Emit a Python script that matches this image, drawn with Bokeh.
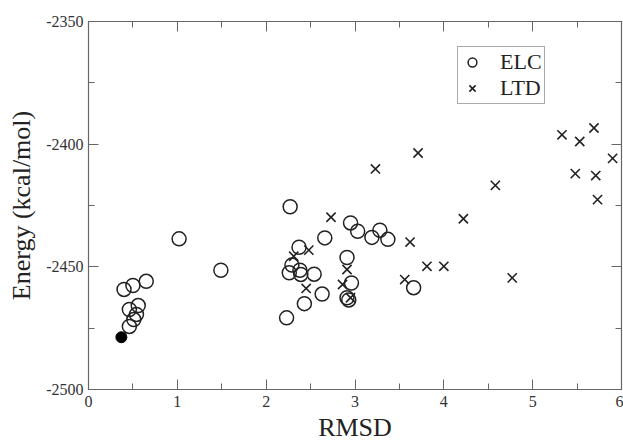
from bokeh.plotting import figure
from bokeh.models import (Range1d, LinearAxis, FixedTicker, Legend, LegendItem,
                          CustomJSTickFormatter)
from bokeh.embed import file_html
from bokeh.resources import INLINE

# ---- data ----
elc_x = [0.40, 0.50, 0.65, 0.46, 0.56, 0.54, 0.46, 0.51, 1.02, 1.49, 2.27, 2.95,
         3.03, 3.19, 3.28, 3.37, 2.66, 2.37, 2.91, 2.29, 2.26, 2.38, 2.39, 2.54,
         2.96, 2.63, 2.91, 2.43, 2.23, 3.66, 2.93]
elc_y = [-2459.2, -2457.6, -2455.9, -2467.4, -2465.8, -2469.4, -2474.3, -2471.5,
         -2438.6, -2451.4, -2425.5, -2432.1, -2435.5, -2438.0, -2435.1, -2438.8,
         -2438.2, -2442.0, -2446.2, -2449.3, -2452.4, -2451.4, -2453.1, -2453.0,
         -2456.6, -2461.1, -2462.6, -2465.0, -2470.8, -2458.5, -2463.5]

ltd_x = [3.23, 3.71, 2.73, 3.62, 4.22, 4.58, 5.33, 5.53, 5.69, 5.90, 5.48, 5.71,
         5.73, 3.81, 4.00, 3.56, 4.77, 2.48, 2.31, 2.91, 2.45, 2.86, 2.95]
ltd_y = [-2410.1, -2403.6, -2429.8, -2439.9, -2430.4, -2416.8, -2396.2, -2398.9,
         -2393.4, -2405.8, -2412.0, -2412.8, -2422.6, -2449.8, -2449.8, -2455.2,
         -2454.5, -2443.2, -2445.7, -2451.1, -2458.8, -2457.2, -2462.6]

best_x = [0.37]
best_y = [-2478.7]

x_ticks = [0, 1, 2, 3, 4, 5, 6]
y_ticks = [-2500, -2450, -2400, -2350]
y_tick_labels = ["-2500", "-2450", "-2400", "-2350"]

FONT = "Liberation Serif"
AX_COLOR = "#666666"
MK_COLOR = "#222222"

p = figure(width=623, height=444, output_backend="svg", toolbar_location=None,
           x_range=Range1d(0, 6), y_range=Range1d(-2500, -2350),
           min_border_left=88, min_border_right=2, min_border_top=21,
           min_border_bottom=54, x_axis_type=None, y_axis_type=None)
p.grid.visible = False
p.outline_line_color = None
p.background_fill_color = "white"
p.border_fill_color = "white"


def style(ax, labels=True):
    ax.axis_line_color = AX_COLOR
    ax.axis_line_width = 1.2
    ax.major_tick_line_color = AX_COLOR
    ax.minor_tick_line_color = AX_COLOR
    ax.major_tick_in = 10
    ax.major_tick_out = 0
    ax.minor_tick_in = 6
    ax.minor_tick_out = 0
    if labels:
        ax.major_label_text_font = FONT
        ax.major_label_text_font_size = "16px"
        ax.major_label_text_color = "#333333"
        ax.axis_label_text_font = FONT
        ax.axis_label_text_font_size = "26px"
        ax.axis_label_text_font_style = "normal"
        ax.axis_label_text_color = "#222222"
    else:
        ax.formatter = CustomJSTickFormatter(code="return ''")
        ax.major_label_standoff = 0
        ax.axis_label_standoff = 0


xt = FixedTicker(ticks=x_ticks, minor_ticks=[i * 0.5 for i in range(13)])
yt = FixedTicker(ticks=y_ticks, minor_ticks=[-2500 + 25 * i for i in range(7)])

xb = LinearAxis(ticker=xt, axis_label="RMSD")
style(xb)
xb.major_label_standoff = 6
xb.axis_label_standoff = 3
p.add_layout(xb, "below")

yl = LinearAxis(ticker=yt, axis_label="Energy (kcal/mol)")
style(yl)
yl.major_label_overrides = {t: s for t, s in zip(y_ticks, y_tick_labels)}
yl.major_label_standoff = 5
yl.axis_label_standoff = 7
p.add_layout(yl, "left")

xa = LinearAxis(ticker=xt)
style(xa, labels=False)
p.add_layout(xa, "above")

yr = LinearAxis(ticker=yt)
style(yr, labels=False)
p.add_layout(yr, "right")

r_elc = p.scatter(elc_x, elc_y, marker="circle", size=14, fill_color=None,
                  line_color=MK_COLOR, line_width=1.5)
r_ltd = p.scatter(ltd_x, ltd_y, marker="x", size=13, line_color=MK_COLOR,
                  line_width=1.6)
p.scatter(best_x, best_y, marker="circle", size=11, fill_color="black",
          line_color="black", line_width=1)

legend = Legend(items=[LegendItem(label="ELC", renderers=[r_elc]),
                       LegendItem(label="LTD", renderers=[r_ltd])],
                location=(369, 285))
legend.label_text_font = FONT
legend.label_text_font_size = "22px"
legend.label_text_color = "#222222"
legend.border_line_color = "#555555"
legend.border_line_width = 1.2
legend.background_fill_alpha = 1
legend.padding = 2
legend.spacing = 0
legend.margin = 0
legend.glyph_width = 24
legend.glyph_height = 22
legend.label_height = 22
legend.label_standoff = 16
p.add_layout(legend, "center")

open("out.html", "w").write(file_html(p, INLINE))
